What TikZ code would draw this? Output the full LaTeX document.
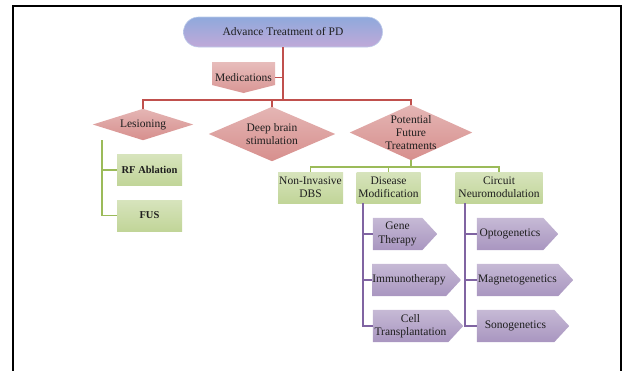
\documentclass[tikz,border=0pt]{standalone}
\usepackage{fontspec}
\setmainfont{Liberation Serif}
\usetikzlibrary{backgrounds,calc}
\definecolor{redline}{HTML}{C0504D}
\definecolor{greenline}{HTML}{9BBB59}
\definecolor{purpline}{HTML}{8064A2}
\definecolor{txt}{HTML}{1E1E1E}
\definecolor{roottop}{HTML}{8FA9DC}
\definecolor{rootbot}{HTML}{C0A9D8}
\begin{document}
\begin{tikzpicture}[x=1pt,y=-1pt,
  font=\fontsize{11.5}{13.3}\selectfont,
  lbl/.style={inner sep=0pt, align=center, text=txt},
  redln/.style={draw=redline, line width=1.3pt},
  grnln/.style={draw=greenline, line width=1.3pt},
  purln/.style={draw=purpline, line width=1.3pt},
  diafill/.style={top color=redline!42!white, bottom color=redline!64!white},
  grnbox/.style={lbl, top color=greenline!40!white, bottom color=greenline!62!white, minimum width=65pt, minimum height=31pt},
  boldtxt/.style={font=\fontsize{10.5}{12.5}\selectfont\bfseries},
  purfill/.style={top color=purpline!45!white, bottom color=purpline!68!white},
  purbox/.style={lbl, minimum height=32pt}
]
\useasboundingbox (0,0) rectangle (628,370);
\draw[line width=2pt] (13,372) -- (13,6) -- (621,6) -- (621,372);

% root
\node (root) [lbl, minimum width=199pt, minimum height=30pt, rounded corners=15pt,
  top color=roottop, bottom color=rootbot,
  draw=roottop!60!white, line width=0.6pt] at (283,32) {Advance Treatment of PD};

% medications
\node (med) [lbl, minimum width=63pt, minimum height=31pt] at (243.5,77.5) {Medications};

% diamonds
\node (les) [lbl, minimum width=100pt, minimum height=31pt] at (143,124.5) {Lesioning};
\node (dbs) [lbl, minimum width=126pt, minimum height=54pt] at (272,134) {Deep brain\\stimulation};
\node (pft) [lbl, minimum width=122pt, minimum height=55pt] at (411,132.5) {Potential\\Future\\Treatments};

% green boxes
\node (rf) [grnbox, boldtxt] at (149.5,170) {RF Ablation};
\node (fus) [grnbox, boldtxt] at (149.5,215.5) {FUS};
\node (nidbs) [grnbox] at (310.5,187.5) {Non-Invasive\\DBS};
\node (dm) [grnbox, minimum width=64pt] at (388.5,187.5) {Disease\\Modification};
\node (cn) [grnbox, minimum width=87pt] at (499,187.5) {Circuit\\Neuromodulation};

% purple pentagons
\node (gene) [purbox, minimum width=49pt] at (397.5,234) {Gene\\Therapy};
\node (imm) [purbox, minimum width=72pt] at (409,280) {Immunotherapy};
\node (cell) [purbox, minimum width=75pt] at (410.5,326) {Cell\\Transplantation};
\node (opto) [purbox, minimum width=66pt] at (510,234) {Optogenetics};
\node (mag) [purbox, minimum width=81pt] at (517.5,280) {Magnetogenetics};
\node (sono) [purbox, minimum width=77pt] at (515.5,326) {Sonogenetics};

\begin{scope}[on background layer]
  \shade[top color=redline!38!white, bottom color=redline!60!white]
    (212,62) -- (275,62) -- (275,85) -- (243.5,93) -- (212,85) -- cycle;
  \foreach \n in {les,dbs,pft}
    \shade[diafill] (\n.north) -- (\n.east) -- (\n.south) -- (\n.west) -- cycle;
  \foreach \n in {gene,imm,cell,opto,mag,sono}
    \shade[purfill] (\n.north west) -- (\n.north east) -- ($(\n.east)+(15,0)$)
      -- (\n.south east) -- (\n.south west) -- cycle;
\end{scope}

% red connectors
\coordinate (bar) at (0,100);
\draw[redln] (root.south) -- (root.south |- bar);
\draw[redln] (les.north) -- (les.north |- bar) -- (pft.north |- bar) -- (pft.north);
\draw[redln] (dbs.north) -- (dbs.north |- bar);
\draw[redln] (med.east) -- (med.east -| root.south);

% green connectors
\coordinate (lesL) at (102,140);
\draw[grnln] (lesL) |- (rf.west);
\draw[grnln] (lesL) |- (fus.west);
\coordinate (gbar) at (0,167);
\draw[grnln] (pft.south) -- (pft.south |- gbar);
\draw[grnln] (nidbs.north) -- (nidbs.north |- gbar) -| (cn.north);
\draw[grnln] (dm.north) -- (dm.north |- gbar);

% purple connectors
\coordinate (dmL) at (363,0);
\coordinate (cnL) at (465,0);
\draw[purln] (dm.south -| dmL) |- (cell.west);
\draw[purln] (dm.south -| dmL) |- (gene.west);
\draw[purln] (dm.south -| dmL) |- (imm.west);
\draw[purln] (cn.south -| cnL) |- (sono.west);
\draw[purln] (cn.south -| cnL) |- (opto.west);
\draw[purln] (cn.south -| cnL) |- (mag.west);
\end{tikzpicture}
\end{document}
